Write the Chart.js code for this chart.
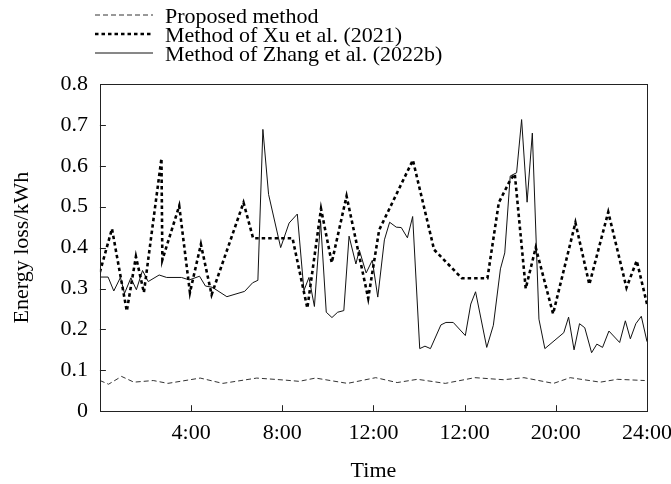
<!DOCTYPE html>
<html>
<head>
<meta charset="utf-8">
<script src="https://cdn.jsdelivr.net/npm/chart.js@4.4.1/dist/chart.umd.min.js"></script>
<style>
  body { margin: 0; background: #fff; }
</style>
</head>
<body>
<canvas id="graficoPerdidas" width="671" height="484"></canvas>
<script>
// Time (h) and energy loss (kWh)
const proposedTimes = [0, 0.38, 0.95, 1.49, 2.34, 2.98, 4.4, 5.39, 6.88, 8.13, 8.74, 9.46, 10.86, 12.1, 13.04, 13.93, 15.15, 16.45, 17.7, 18.6, 19.9, 20.63, 21.95, 22.7, 23.9];
const proposedLoss = [0.075, 0.066, 0.085, 0.071, 0.075, 0.068, 0.081, 0.068, 0.081, 0.076, 0.073, 0.081, 0.068, 0.082, 0.07, 0.078, 0.068, 0.082, 0.077, 0.082, 0.068, 0.082, 0.071, 0.078, 0.075];

const xuTimes = [0, 0.53, 1.18, 1.58, 1.93, 2.7, 2.74, 3.48, 3.95, 4.43, 4.9, 6.3, 6.72, 8.45, 9.1, 9.7, 10.17, 10.82, 11.77, 12.25, 13.73, 14.66, 15.88, 17.0, 17.5, 18.0, 18.2, 18.68, 19.12, 19.88, 20.86, 21.47, 22.3, 23.1, 23.55, 24.0];
const xuLoss = [0.34, 0.446, 0.245, 0.378, 0.29, 0.618, 0.37, 0.502, 0.29, 0.408, 0.285, 0.51, 0.423, 0.423, 0.252, 0.495, 0.363, 0.526, 0.276, 0.443, 0.614, 0.395, 0.325, 0.325, 0.51, 0.565, 0.58, 0.3, 0.4, 0.238, 0.461, 0.31, 0.487, 0.302, 0.368, 0.262];

const zhangTimes = [0, 0.36, 0.61, 0.9, 1.08, 1.36, 1.6, 1.87, 2.12, 2.6, 2.93, 3.58, 3.92, 4.37, 4.63, 4.93, 5.57, 6.35, 6.7, 6.93, 7.15, 7.4, 7.93, 8.3, 8.66, 8.95, 9.17, 9.41, 9.68, 9.93, 10.18, 10.43, 10.7, 10.93, 11.23, 11.38, 11.68, 11.95, 12.19, 12.48, 12.71, 13.0, 13.22, 13.49, 13.72, 14.03, 14.26, 14.5, 14.96, 15.18, 15.5, 16.03, 16.27, 16.48, 16.97, 17.26, 17.57, 17.76, 18.0, 18.28, 18.5, 18.74, 18.97, 19.26, 19.52, 20.35, 20.56, 20.8, 21.04, 21.27, 21.57, 21.8, 22.05, 22.33, 22.8, 23.05, 23.27, 23.51, 23.75, 24.0];
const zhangLoss = [0.328, 0.328, 0.294, 0.327, 0.288, 0.326, 0.297, 0.344, 0.317, 0.333, 0.327, 0.327, 0.321, 0.33, 0.306, 0.303, 0.28, 0.293, 0.314, 0.32, 0.689, 0.53, 0.4, 0.46, 0.482, 0.295, 0.327, 0.256, 0.465, 0.242, 0.229, 0.242, 0.246, 0.428, 0.36, 0.394, 0.338, 0.369, 0.279, 0.419, 0.462, 0.45, 0.449, 0.424, 0.476, 0.153, 0.159, 0.153, 0.211, 0.217, 0.217, 0.185, 0.262, 0.292, 0.156, 0.21, 0.348, 0.387, 0.575, 0.583, 0.713, 0.511, 0.68, 0.225, 0.153, 0.192, 0.23, 0.15, 0.214, 0.204, 0.143, 0.164, 0.156, 0.196, 0.168, 0.221, 0.177, 0.214, 0.232, 0.17];

// Axis ticks
const xTickValues = [4, 8, 12, 16, 20, 24];
const xTickLabels = ['4:00', '8:00', '12:00', '12:00', '20:00', '24:00'];

const toPoints = (times, values) => times.map((t, i) => ({ x: t, y: values[i] }));

// Legend drawn as a stacked list at the top left
const stackedLegend = {
    id: 'stackedLegend',
    afterDraw(chart) {
        const ctx = chart.ctx;
        ctx.save();
        ctx.font = '22px "Liberation Serif"';
        ctx.fillStyle = '#000';
        ctx.textBaseline = 'alphabetic';
        chart.data.datasets.forEach((ds, i) => {
            const y = 15 + i * 19;
            ctx.beginPath();
            ctx.setLineDash(ds.borderDash || []);
            ctx.lineWidth = ds.borderWidth;
            ctx.strokeStyle = ds.borderColor;
            ctx.moveTo(95, y);
            ctx.lineTo(153, y);
            ctx.stroke();
            ctx.fillText(ds.label, 165, y + 8);
        });
        ctx.restore();
    }
};

// Box around the plot and inward tick marks
const frameAndTicks = {
    id: 'frameAndTicks',
    afterDraw(chart) {
        const { ctx, chartArea: a, scales: { x, y } } = chart;
        ctx.save();
        ctx.strokeStyle = '#222';
        ctx.lineWidth = 1;
        ctx.setLineDash([]);
        ctx.strokeRect(Math.round(a.left) + 0.5, Math.round(a.top) + 0.5, Math.round(a.width), Math.round(a.height));
        ctx.beginPath();
        y.ticks.forEach(t => {
            if (t.value <= 0 || t.value >= 0.8) return;
            const py = Math.round(y.getPixelForValue(t.value)) + 0.5;
            ctx.moveTo(a.left, py);
            ctx.lineTo(a.left + 6, py);
        });
        x.ticks.forEach(t => {
            if (t.value >= 24) return;
            const px = Math.round(x.getPixelForValue(t.value)) + 0.5;
            ctx.moveTo(px, a.bottom);
            ctx.lineTo(px, a.bottom - 6);
        });
        ctx.stroke();
        ctx.restore();
    }
};

Chart.defaults.font.family = '"Liberation Serif", "Times New Roman", serif';
Chart.defaults.font.size = 22;
Chart.defaults.color = '#000';

const ctx = document.getElementById('graficoPerdidas').getContext('2d');
new Chart(ctx, {
    type: 'line',
    data: {
        datasets: [
            {
                label: 'Proposed method',
                data: toPoints(proposedTimes, proposedLoss),
                borderColor: '#333',
                borderWidth: 1,
                borderDash: [5, 3]
            },
            {
                label: 'Method of Xu et al. (2021)',
                data: toPoints(xuTimes, xuLoss),
                borderColor: '#000',
                borderWidth: 2.6,
                borderDash: [3.5, 3]
            },
            {
                label: 'Method of Zhang et al. (2022b)',
                data: toPoints(zhangTimes, zhangLoss),
                borderColor: '#111',
                borderWidth: 1
            }
        ]
    },
    options: {
        responsive: false,
        animation: false,
        elements: {
            point: { radius: 0 },
            line: { tension: 0, fill: false }
        },
        layout: {
            padding: { top: 84, left: 5, right: 0, bottom: 0 }
        },
        plugins: {
            legend: { display: false },
            tooltip: { enabled: false }
        },
        scales: {
            x: {
                type: 'linear',
                min: 0,
                max: 24,
                grid: { display: false, drawTicks: false },
                border: { display: false },
                afterBuildTicks: scale => {
                    scale.ticks = xTickValues.map(v => ({ value: v }));
                },
                afterFit: scale => {
                    scale.paddingRight = 24;
                },
                ticks: {
                    autoSkip: false,
                    maxRotation: 0,
                    padding: 9,
                    callback: value => xTickLabels[xTickValues.indexOf(value)]
                },
                title: {
                    display: true,
                    text: 'Time',
                    padding: { top: 2, bottom: 0 }
                }
            },
            y: {
                min: 0,
                max: 0.8,
                grid: { display: false, drawTicks: false },
                border: { display: false },
                ticks: {
                    stepSize: 0.1,
                    padding: 12,
                    callback: value => (value === 0 ? '0' : value.toFixed(1))
                },
                title: {
                    display: true,
                    text: 'Energy loss/kWh',
                    padding: { top: 4, bottom: 13 }
                }
            }
        }
    },
    plugins: [stackedLegend, frameAndTicks]
});
</script>
</body>
</html>
